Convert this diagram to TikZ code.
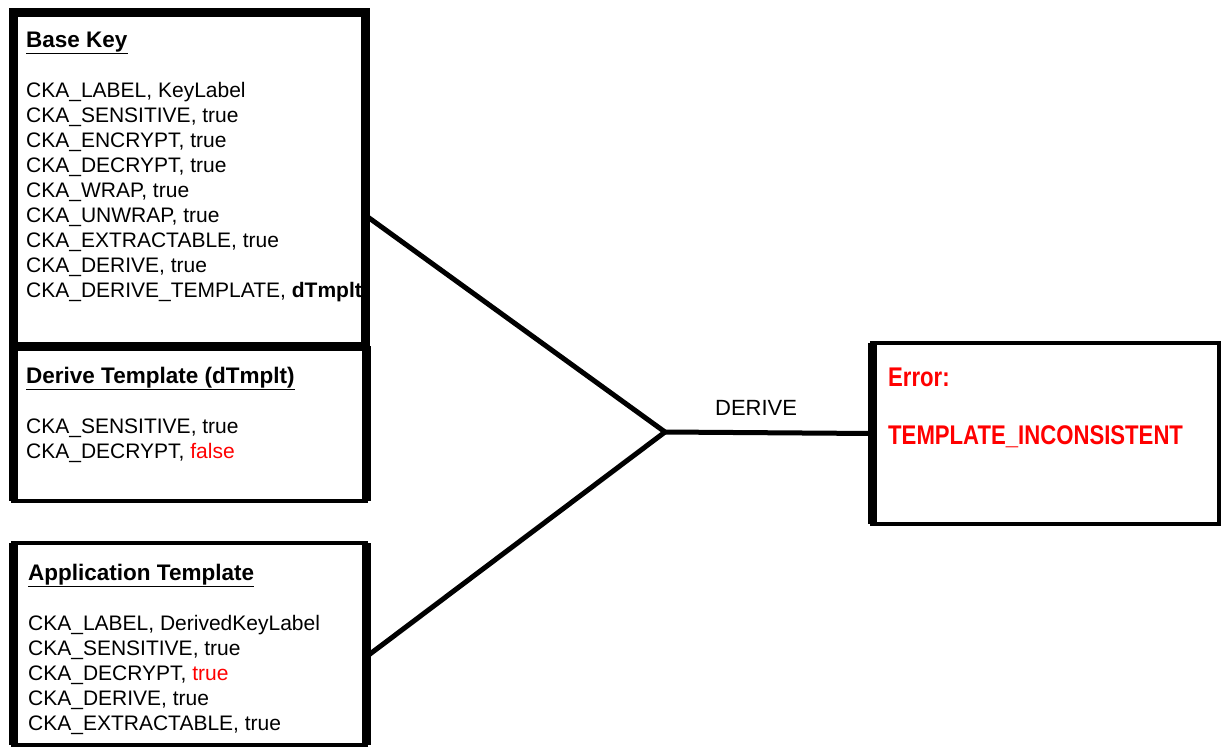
\documentclass[tikz,border=0pt]{standalone}
\usepackage{fontspec}
\setmainfont{Liberation Sans}

\tikzset{
  box/.style={draw, line width=3.5pt, inner sep=0pt, outer sep=0pt},
  side/.style={line width=9pt},
  link/.style={line width=5pt},
  txt/.style={anchor=north west, inner sep=0pt, align=left,
    font=\fontsize{21}{25}\selectfont},
  errtxt/.style={anchor=north west, inner sep=0pt, align=left, text=red,
    font=\fontsize{27}{29}\selectfont\bfseries}
}
\newcommand{\hdr}[1]{\underline{\fontsize{22.5}{25}\selectfont\bfseries #1}}

\begin{document}
\begin{tikzpicture}[x=1pt, y=-1pt]
  \useasboundingbox (0,0) rectangle (1221,747);

  % boxes
  \node[box, minimum width=352pt, minimum height=334pt] (base) at (189,179) {};
  \node[box, minimum width=353pt, minimum height=155pt] (dtmpl) at (189.5,423.5) {};
  \node[box, minimum width=353pt, minimum height=202pt] (app) at (189.5,644) {};
  \node[box, minimum width=347pt, minimum height=181pt] (err) at (1045.5,433.5) {};

  \draw[side] (base.north west) -- (base.north east) -- (base.south east) -- (base.south west) -- cycle;
  \draw[side] (dtmpl.north west) -- (dtmpl.south west);
  \draw[side] (dtmpl.north east) -- (dtmpl.south east);
  \draw[side] (app.north west) -- (app.south west);
  \draw[side] (app.north east) -- (app.south east);
  \draw[side] (err.north west) -- (err.south west);

  % texts
  \node[txt] (basetxt) at (26,29.5) {\strut\hdr{Base Key}\\[25pt]
    CKA\_LABEL, KeyLabel\\
    CKA\_SENSITIVE, true\\
    CKA\_ENCRYPT, true\\
    CKA\_DECRYPT, true\\
    CKA\_WRAP, true\\
    CKA\_UNWRAP, true\\
    CKA\_EXTRACTABLE, true\\
    CKA\_DERIVE, true\\
    CKA\_DERIVE\_TEMPLATE, \textbf{dTmplt}};
  \node[txt] (dtmpltxt) at (26,365.5) {\strut\hdr{Derive Template (dTmplt)}\\[25pt]
    CKA\_SENSITIVE, true\\
    CKA\_DECRYPT, \textcolor{red}{false}};
  \node[txt] (apptxt) at (28,562.5) {\strut\hdr{Application Template}\\[25pt]
    CKA\_LABEL, DerivedKeyLabel\\
    CKA\_SENSITIVE, true\\
    CKA\_DECRYPT, \textcolor{red}{true}\\
    CKA\_DERIVE, true\\
    CKA\_EXTRACTABLE, true};
  \node[errtxt] (errtxt) at (888,368) {\scalebox{0.82}[1]{Error:}\\[29pt]
    \scalebox{0.82}[1]{TEMPLATE\_INCONSISTENT}};

  % connectors
  \coordinate (join) at (665,432);
  \draw[link] ([yshift=-36pt]base.east) -- (join);
  \draw[link] ([yshift=-13pt]app.east) -- (join);
  \draw[link] (join) -- node[above=11pt, pos=0.44, font=\fontsize{22}{25}\selectfont] (derive) {DERIVE} (err.west);
\end{tikzpicture}
\end{document}
